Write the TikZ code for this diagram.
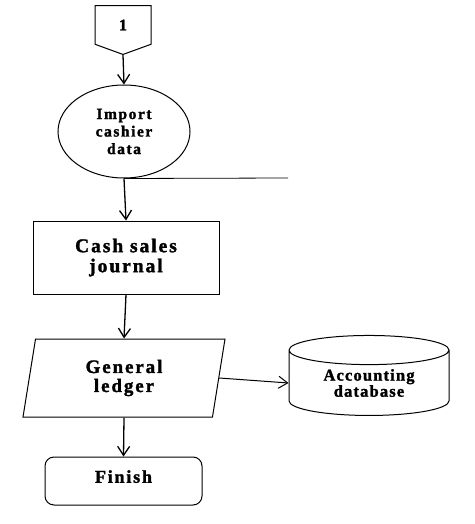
\documentclass[tikz,border=0pt]{standalone}
\usepackage{fontspec}
\newfontfamily\lblfont[LetterSpace=10,FakeBold=1.6,UprightFont={* Bold}]{Liberation Serif}
\newfontfamily\dbfont[LetterSpace=7,FakeBold=1.6,UprightFont={* Bold}]{Liberation Serif}
\usetikzlibrary{shapes.geometric,shapes.symbols,arrows.meta}
\begin{document}
\begin{tikzpicture}[x=1pt,y=-1pt]

\tikzstyle{flow} = [draw, line width=1pt, align=center, inner sep=0pt,
	font=\lblfont];
\tikzstyle{link} = [line width=1.3pt, -{Straight Barb[length=9pt,width=12pt]}];
\useasboundingbox (0,0) rectangle (474,524);

% off-page start
\node[flow, signal, signal to=south, signal pointer angle=140,
	minimum width=56pt, minimum height=40pt,
	font=\lblfont\fontsize{16}{17}\selectfont] (start) at (123,25) {1};

\node[flow, ellipse, minimum width=132pt, minimum height=93pt,
	font=\lblfont\fontsize{15.5}{17.5}\selectfont] (import) at (124,131.5)
	{Import\\cashier\\data};
\coordinate (tapend) at (288,178);

\node[flow, rectangle, minimum width=186pt, minimum height=73pt,
	font=\lblfont\fontsize{19.5}{20}\selectfont] (journal) at (126,257.5)
	{Cash sales\\journal};

\node[flow, trapezium, trapezium left angle=71, trapezium right angle=109,
	trapezium stretches body, minimum width=202pt, minimum height=78pt,
	font=\lblfont\fontsize{19}{19}\selectfont] (ledger) at (124,378)
	{General\\ledger};

\node[flow, cylinder, shape border rotate=90, aspect=0.32,
	minimum width=160pt, minimum height=80pt,
	font=\dbfont\fontsize{16.5}{15}\selectfont] (db) at (369,383)
	{Accounting\\database};

\node[flow, rectangle, rounded corners=9pt, minimum width=157pt,
	minimum height=48pt, text depth=9pt,
	font=\lblfont\fontsize{18}{18}\selectfont] (finish) at (123.5,481)
	{Finish};

\draw[link] (start.south) -- (import.north);
\draw[line width=0.8pt] (import.south) -- (tapend);
\draw[link] (import.south) -- (journal.north);
\draw[link] (journal.south) -- (ledger.north);
\draw[link, line width=1pt] (ledger.east) -- (db.west);
\draw[link] (ledger.south) -- (finish.north);

\end{tikzpicture}
\end{document}
